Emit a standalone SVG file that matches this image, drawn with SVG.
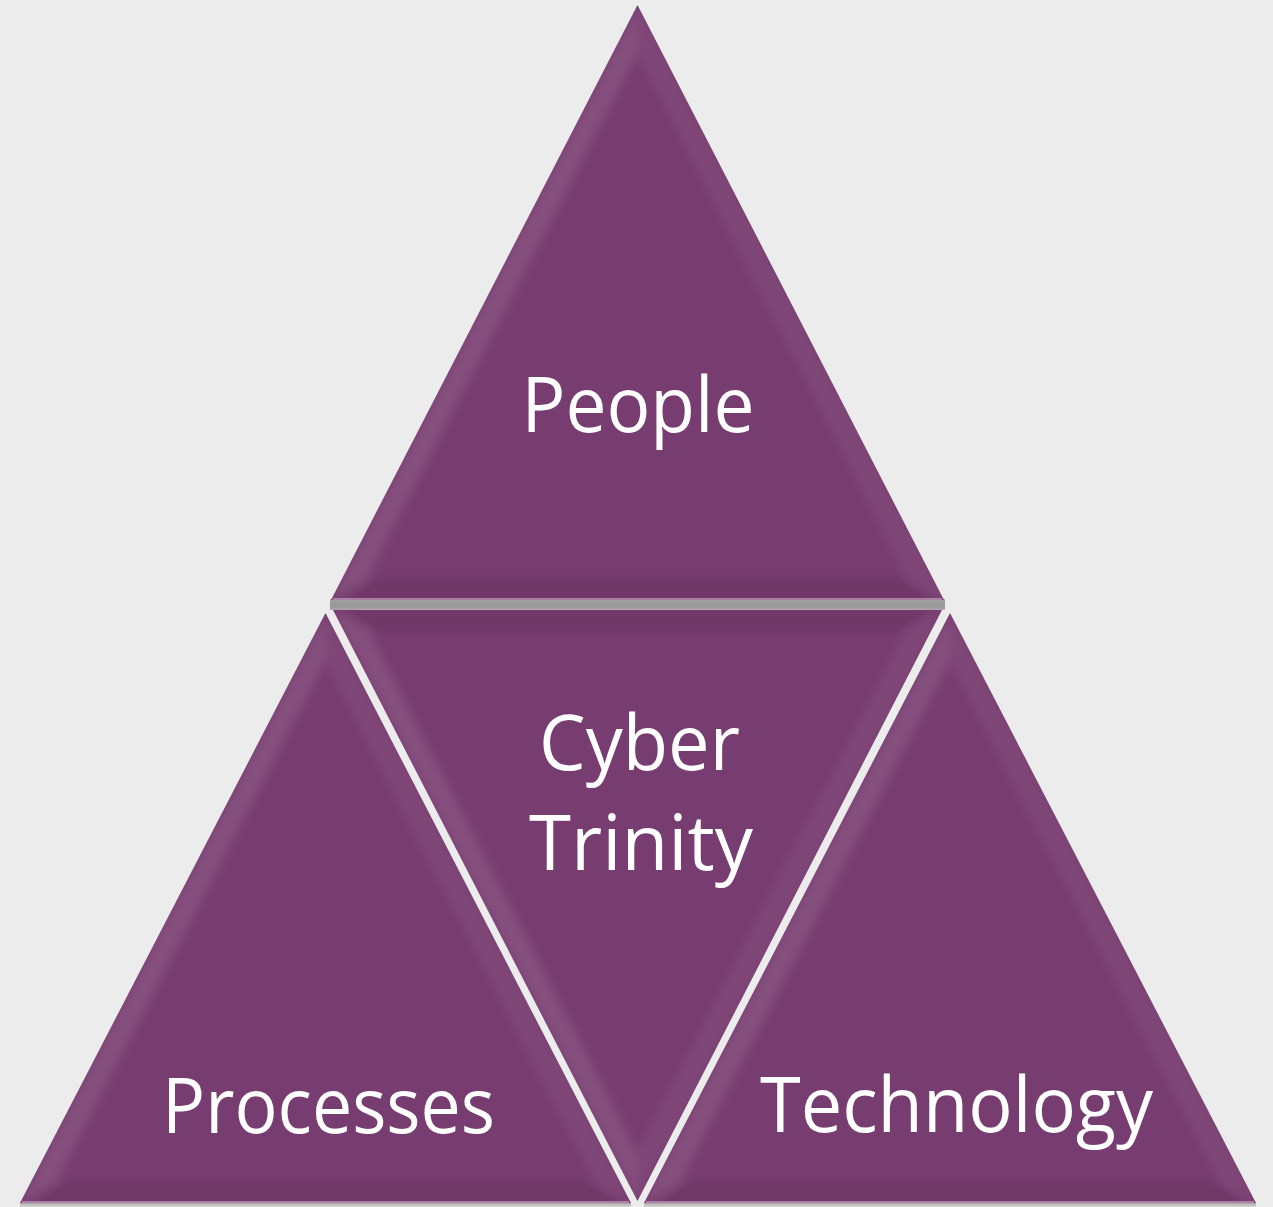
<svg xmlns="http://www.w3.org/2000/svg" width="1273" height="1207" viewBox="0 0 1273 1207">
<defs>
<style>
.tri{fill:#783d70;}
.lt{fill:#ffffff;fill-opacity:0.09;}
.lt2{fill:#ffffff;fill-opacity:0.05;}
.dk{fill:#000000;fill-opacity:0.08;}
.edge{fill:none;stroke:#d9b5d2;stroke-opacity:0.55;stroke-width:2;}
.lbl{font-family:"Open Sans","Noto Sans","Liberation Sans",sans-serif;font-size:76px;fill:#ffffff;text-anchor:middle;}
</style>
<filter id="soft" x="-5%" y="-5%" width="110%" height="110%"><feGaussianBlur stdDeviation="4"/></filter>
<linearGradient id="band" x1="0" y1="0" x2="0" y2="1">
<stop offset="0" stop-color="#b7a3b3"/>
<stop offset="0.25" stop-color="#9a9a9a"/>
<stop offset="0.75" stop-color="#9a9a9a"/>
<stop offset="1" stop-color="#b7a3b3"/>
</linearGradient>
<linearGradient id="shadow" x1="0" y1="0" x2="0" y2="1">
<stop offset="0" stop-color="#a9a9a9"/>
<stop offset="1" stop-color="#d8d8d8"/>
</linearGradient>
<clipPath id="cTop"><polygon points="637.5,5 331,600 944,600"/></clipPath>
<clipPath id="cMid"><polygon points="333,610 942,610 637.5,1201"/></clipPath>
<clipPath id="cLeft"><polygon points="325.5,613 20,1203 631,1203"/></clipPath>
<clipPath id="cRight"><polygon points="950,613 644,1203 1256,1203"/></clipPath>
</defs>
<rect x="0" y="0" width="1273" height="1207" fill="#ececec"/>
<g id="connectors">
<rect x="330" y="599" width="615" height="11" fill="url(#band)"/>
<rect x="20" y="1203" width="611" height="4" fill="url(#shadow)"/>
<rect x="644" y="1203" width="612" height="4" fill="url(#shadow)"/>
</g>
<g id="people">
<polygon class="tri" points="637.5,5 331,600 944,600"/>
<g clip-path="url(#cTop)"><g filter="url(#soft)">
<polygon class="lt" points="637.5,5 331,600 367.1,578 637.5,53"/>
<polygon class="lt2" points="637.5,5 944,600 907.9,578 637.5,53"/>
<polygon class="dk" points="331,600 944,600 907.9,578 367.1,578"/>
</g></g>
<line class="edge" x1="333" y1="599" x2="942" y2="599"/>
<text class="lbl" x="638" y="432" textLength="233" lengthAdjust="spacingAndGlyphs">People</text>
</g>
<g id="cyber-trinity">
<polygon class="tri" points="333,610 942,610 637.5,1201"/>
<g clip-path="url(#cMid)"><g filter="url(#soft)">
<polygon class="dk" points="333,610 942,610 905.9,632 369.1,632"/>
<polygon class="lt" points="333,610 637.5,1201 637.5,1153 369.1,632"/>
<polygon class="lt2" points="942,610 637.5,1201 637.5,1153 905.9,632"/>
</g></g>
<text class="lbl" x="639.5" y="770" textLength="201" lengthAdjust="spacingAndGlyphs">Cyber</text>
<text class="lbl" x="641" y="870" textLength="224" lengthAdjust="spacingAndGlyphs">Trinity</text>
</g>
<g id="processes">
<polygon class="tri" points="325.5,613 20,1203 631,1203"/>
<g clip-path="url(#cLeft)"><g filter="url(#soft)">
<polygon class="lt" points="325.5,613 20,1203 56.2,1181 325.5,660.9"/>
<polygon class="lt2" points="325.5,613 631,1203 594.8,1181 325.5,660.9"/>
<polygon class="dk" points="20,1203 631,1203 594.8,1181 56.2,1181"/>
</g></g>
<line class="edge" x1="22" y1="1202" x2="629" y2="1202"/>
<text class="lbl" x="328.5" y="1133" textLength="333" lengthAdjust="spacingAndGlyphs">Processes</text>
</g>
<g id="technology">
<polygon class="tri" points="950,613 644,1203 1256,1203"/>
<g clip-path="url(#cRight)"><g filter="url(#soft)">
<polygon class="lt" points="950,613 644,1203 680.3,1181 950,660.9"/>
<polygon class="lt2" points="950,613 1256,1203 1219.7,1181 950,660.9"/>
<polygon class="dk" points="644,1203 1256,1203 1219.7,1181 680.3,1181"/>
</g></g>
<line class="edge" x1="646" y1="1202" x2="1254" y2="1202"/>
<text class="lbl" x="956.5" y="1132" textLength="393" lengthAdjust="spacingAndGlyphs">Technology</text>
</g>
</svg>
